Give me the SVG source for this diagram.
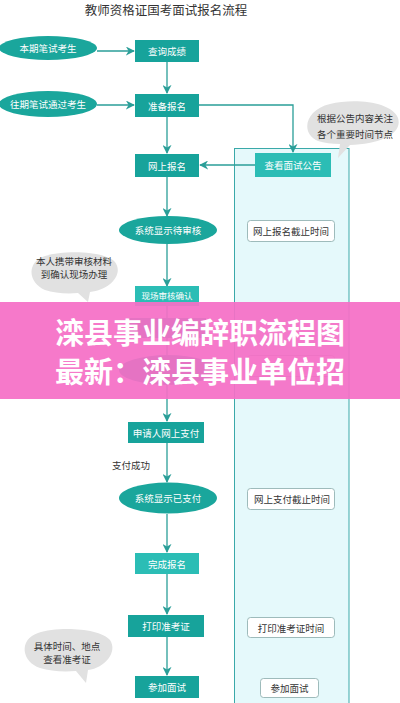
<svg xmlns="http://www.w3.org/2000/svg" width="400" height="703" viewBox="0 0 400 703">
<style>
text{font-family:"Noto Sans CJK SC","Noto Sans",sans-serif;}
.t{fill:#fff;font-size:9.5px;text-anchor:middle;dominant-baseline:central;}
.d{fill:#333;font-size:9.5px;text-anchor:middle;dominant-baseline:central;}
.rk{fill:#17A39B;}
.rl{fill:#2BBDB5;}
.el{fill:#1AA69C;}
.wb{fill:#fff;stroke:#8AA;stroke-width:0.8;}
.bub{fill:#E1E1E1;}
.ln{fill:none;stroke:#2A9E98;stroke-width:1.3;}
.bn{font-size:29px;font-weight:bold;fill:#fff;text-anchor:middle;dominant-baseline:central;}
</style>
<defs>
<marker id="ah" viewBox="0 0 10 10" refX="9" refY="5" markerWidth="9" markerHeight="9" orient="auto" markerUnits="userSpaceOnUse">
<path d="M0,0 L10,5 L0,10 L3,5 Z" fill="#2A9E98"/>
</marker>
</defs>
<rect width="400" height="703" fill="#fff"/>
<text x="166" y="9" style="font-size:12.5px;fill:#333;text-anchor:middle;dominant-baseline:central;">教师资格证国考面试报名流程</text>

<g id="panel"><rect x="234.5" y="148.5" width="114.5" height="560" fill="#E5F9FB" stroke="#3AA9A9" stroke-width="1"/></g>

<g id="connectors">
<line class="ln" x1="97" y1="51" x2="134" y2="51" marker-end="url(#ah)"/>
<line class="ln" x1="97" y1="105" x2="134" y2="105" marker-end="url(#ah)"/>
<line class="ln" x1="167" y1="62" x2="167" y2="93" marker-end="url(#ah)"/>
<line class="ln" x1="167" y1="117" x2="167" y2="153" marker-end="url(#ah)"/>
<polyline class="ln" points="199,105 293,105 293,152" marker-end="url(#ah)"/>
<line class="ln" x1="255" y1="165" x2="200" y2="165" marker-end="url(#ah)"/>
<line class="ln" x1="167" y1="177" x2="167" y2="216" marker-end="url(#ah)"/>
<line class="ln" x1="167" y1="244" x2="167" y2="286" marker-end="url(#ah)"/>
<line class="ln" x1="167" y1="300" x2="167" y2="421" marker-end="url(#ah)"/>
<line class="ln" x1="167" y1="443" x2="167" y2="482" marker-end="url(#ah)"/>
<line class="ln" x1="167" y1="514" x2="167" y2="552" marker-end="url(#ah)"/>
<line class="ln" x1="167" y1="574" x2="167" y2="614" marker-end="url(#ah)"/>
<line class="ln" x1="167" y1="637" x2="167" y2="675" marker-end="url(#ah)"/>
<text class="d" x="131" y="465">支付成功</text>
</g>

<g id="n-benqi"><ellipse class="el" cx="48" cy="48" rx="49" ry="12"/><text class="t" x="48" y="48">本期笔试考生</text></g>
<g id="n-wangqi"><ellipse class="el" cx="48" cy="104" rx="49" ry="13"/><text class="t" x="48" y="104">往期笔试通过考生</text></g>
<g id="n-chaxun"><rect class="rk" x="135" y="40" width="64" height="22"/><text class="t" x="167" y="51">查询成绩</text></g>
<g id="n-zhunbei"><rect class="rk" x="135" y="94" width="64" height="23"/><text class="t" x="167" y="105.5">准备报名</text></g>
<g id="n-wangshang"><rect class="rk" x="135" y="154" width="64" height="23"/><text class="t" x="167" y="165.5">网上报名</text></g>
<g id="n-gonggao"><rect class="rl" x="255" y="153" width="76" height="24"/><text class="t" x="293" y="165">查看面试公告</text></g>
<g id="b-gonggao"><path class="bub" d="M318,141 C300,133 305,110 330,104 C355,98 392,102 398,118 C403,134 380,144 350,145 L338,158 L340,144 C332,144 324,143 318,141 Z"/><text class="d" x="355" y="118">根据公告内容关注</text><text class="d" x="355" y="134">各个重要时间节点</text></g>
<g id="n-daishenhe"><ellipse class="el" cx="168" cy="230" rx="49" ry="14"/><text class="t" x="168" y="230">系统显示待审核</text></g>
<g id="r-baomingjiezhi"><rect class="wb" x="247.5" y="220.5" width="87" height="21" rx="3"/><text class="d" x="291" y="231">网上报名截止时间</text></g>
<g id="b-cailiao"><path class="bub" d="M45,290 C28,283 26,262 45,256 C65,250 105,251 115,262 C124,274 110,290 90,292 L88,302 L78,293 C66,294 54,293 45,290 Z"/><text class="d" x="74" y="261">本人携带审核材料</text><text class="d" x="74" y="274">到确认现场办理</text></g>
<g id="n-xianchang"><rect class="rl" x="135" y="286" width="64" height="20"/><text class="t" x="167" y="295" style="font-size:8.5px">现场审核确认</text></g>
<g id="n-hidden1"><rect class="rk" x="128" y="318" width="78" height="20"/></g>
<g id="n-hidden2"><ellipse class="el" cx="168" cy="370" rx="49" ry="15"/></g>
<g id="r-hidden3"><rect class="wb" x="247.5" y="355.5" width="87" height="21" rx="3"/></g>

<g id="n-zhifu"><rect class="rk" x="128" y="422" width="76" height="21"/><text class="t" x="166" y="432.5">申请人网上支付</text></g>
<g id="n-yizhifu"><ellipse class="el" cx="168" cy="498" rx="49" ry="15.5"/><text class="t" x="168" y="498">系统显示已支付</text></g>
<g id="r-zhifujiezhi"><rect class="wb" x="247.5" y="488.5" width="87" height="21" rx="3"/><text class="d" x="292" y="499">网上支付截止时间</text></g>
<g id="n-wancheng"><rect class="rl" x="135" y="553" width="64" height="21"/><text class="t" x="167" y="563.5">完成报名</text></g>
<g id="n-dayin"><rect class="rk" x="128" y="615" width="76" height="22"/><text class="t" x="166" y="626">打印准考证</text></g>
<g id="r-dayin"><rect class="wb" x="247.5" y="617.5" width="87" height="20" rx="3"/><text class="d" x="291" y="627.5">打印准考证时间</text></g>
<g id="b-didian"><path class="bub" d="M40,668 C22,662 18,640 38,633 C58,626 100,628 110,640 C118,652 105,668 88,670 L86,683 L76,671 C62,672 50,671 40,668 Z"/><text class="d" x="67" y="646">具体时间、地点</text><text class="d" x="67" y="659">查看准考证</text></g>
<g id="n-canjia"><rect class="rk" x="135" y="676" width="64" height="22"/><text class="t" x="167" y="687">参加面试</text></g>
<g id="r-canjia"><rect class="wb" x="260.5" y="678.5" width="58" height="19" rx="3"/><text class="d" x="289.5" y="688">参加面试</text></g>

<g id="banner">
<rect x="0" y="302" width="400" height="97" fill="#F56FC6" opacity="0.93"/>
<text class="bn" x="200" y="331">滦县事业编辞职流程图</text>
<text class="bn" x="200" y="370">最新：滦县事业单位招</text>
</g>
</svg>
